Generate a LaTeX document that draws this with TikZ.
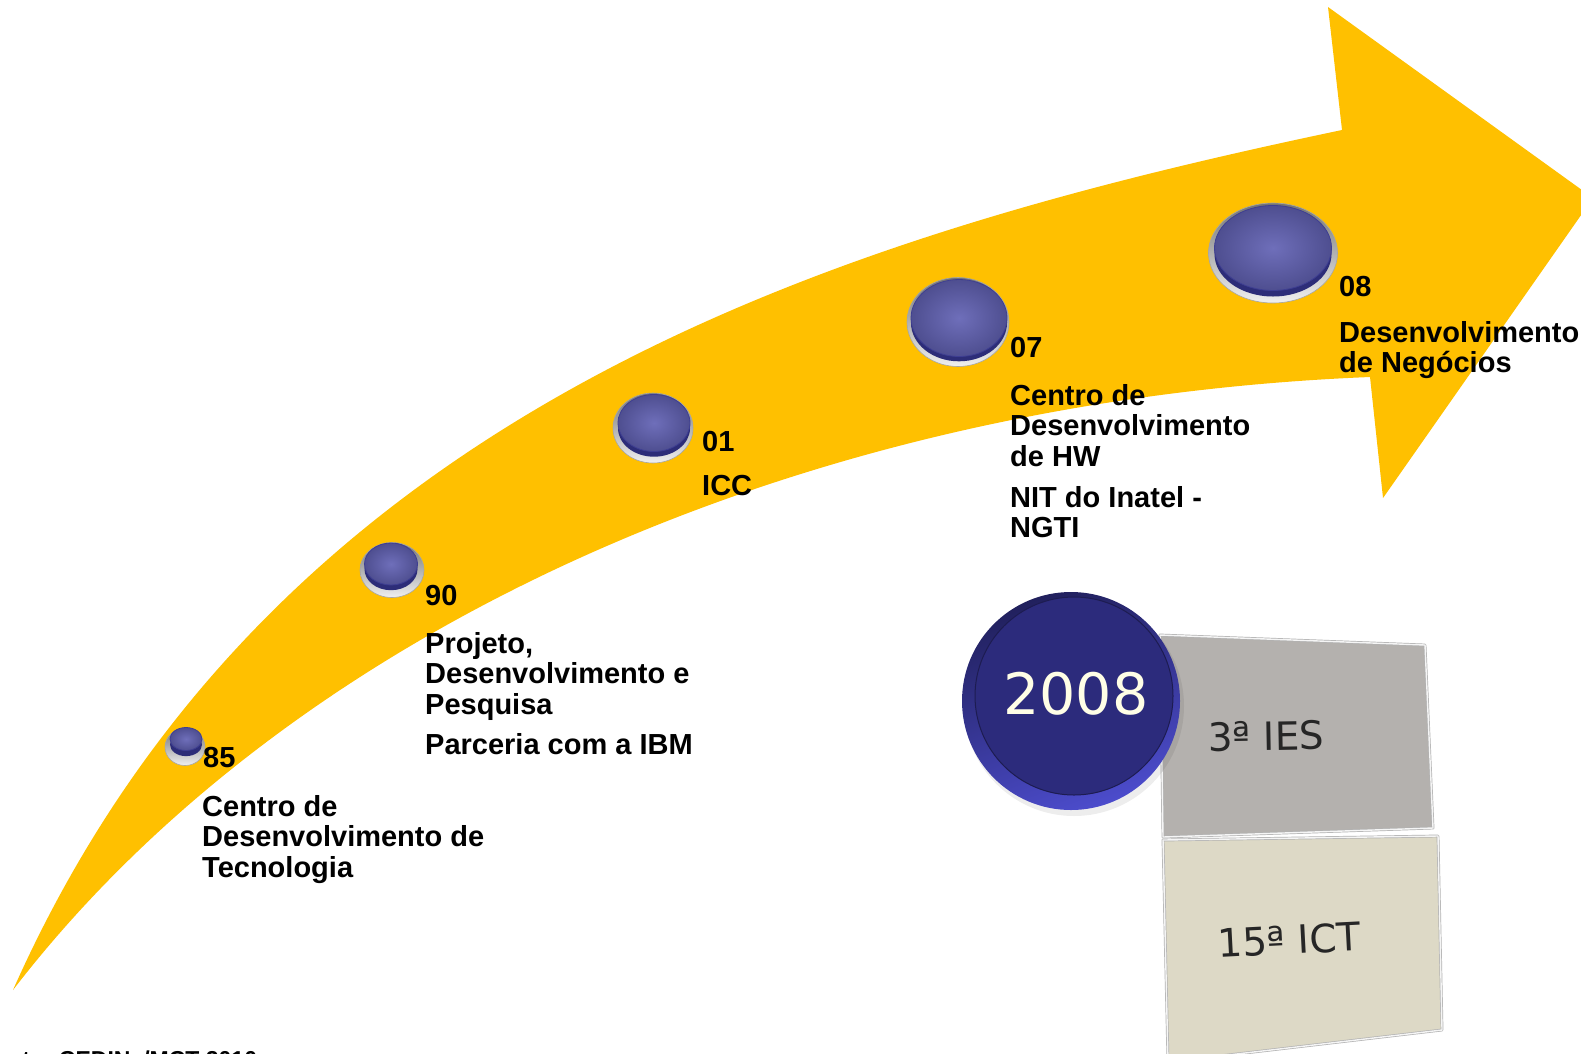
\documentclass[tikz,border=0pt]{standalone}
\usepackage{fontspec}
\setmainfont{Liberation Sans}
\newfontfamily\verd{DejaVu Sans}
\usetikzlibrary{shapes.geometric}
\definecolor{gold}{HTML}{FFC000}
\definecolor{btnface}{HTML}{6262B4}
\definecolor{btnedge}{HTML}{3E3E92}
\definecolor{btnside}{HTML}{2D2D78}
\definecolor{circface}{HTML}{2C2B7C}
\definecolor{circrim}{HTML}{4C4CCC}
\definecolor{boxgray}{HTML}{B4B1AE}
\definecolor{boxbeige}{HTML}{DDD9C6}
\newcommand\mybtn[9]{%
  \node[rim, minimum width=2*#4, minimum height=2*#5] (#1) at (#2,#3) {};
  \node[side, minimum width=2*#8, minimum height=2*#9] (#1s) at (#6,{#7+0.8*(#5-#9)}) {};
  \node[face, minimum width=2*#8, minimum height=2*#9] (#1f) at (#6,#7) {};
}
\begin{document}
\begin{tikzpicture}[x=1pt,y=-1pt,
  rim/.style={ellipse, inner sep=0, draw=black!35, line width=0.6pt, top color=black!55, bottom color=black!6},
  side/.style={ellipse, inner sep=0, fill=btnside},
  face/.style={ellipse, inner sep=0, draw=btnedge, line width=0.8pt, inner color=btnface!92!white, outer color=btnface!80!black},
  yr/.style={anchor=north west, inner sep=0, font=\fontsize{29}{30.5}\selectfont\bfseries},
  desc/.style={anchor=north west, inner sep=0, align=left, font=\fontsize{29}{30.5}\selectfont\bfseries},
  boxtxt/.style={inner sep=0, font=\verd\fontsize{39}{40}\selectfont, text=black!85},
  boxframe/.style={draw=black!30, double=white!96!black, double distance=1.4pt, line width=0.7pt, line join=round},
]
\useasboundingbox (0,0) rectangle (1581,1053);
\clip (0,0) rectangle (1581,1053);

% the arrow
\fill[gold] (13,990) .. controls (273,405) and (842,235) .. (1342,130)
  -- (1328,7) -- (1593,198) -- (1383,498) -- (1370,377)
  .. controls (800,400) and (290,630) .. (13,990) -- cycle;

% buttons
\mybtn{b85}{185}{747}{20}{18.5}{186}{739}{16}{11.5}
\mybtn{b90}{392}{570}{32}{27.5}{391}{564}{26.5}{21}
\mybtn{b01}{653}{428}{40}{35}{654}{423}{36}{28.5}
\mybtn{b07}{958}{322}{51}{44.5}{959}{318}{48}{38.5}
\mybtn{b08}{1273}{253}{64.5}{50}{1273}{248}{58.5}{42.5}

% labels
\node[yr] (y85) at (203,747) {85};
\node[desc] (t85) at (202,795) {Centro de\\Desenvolvimento de\\Tecnologia};
\node[yr] (y90) at (425,585) {90};
\node[desc] (t90) at (425,632) {Projeto,\\Desenvolvimento e\\Pesquisa};
\node[desc] (p90) at (425,733) {Parceria com a IBM};
\node[yr] (y01) at (702,431) {01};
\node[desc] (t01) at (702,475) {ICC};
\node[yr] (y07) at (1010,337) {07};
\node[desc] (t07) at (1010,384) {Centro de\\Desenvolvimento\\de HW};
\node[desc] (n07) at (1010,486) {NIT do Inatel -\\NGTI};
\node[yr] (y08) at (1339,276) {08};
\node[desc] (t08) at (1339,321) {Desenvolvimento\\de Negócios};

% boxes
\path[boxframe, fill=boxgray] (1160,635) -- (1425,645) -- (1433,828) -- (1163,837) -- cycle;
\path[boxframe, fill=boxbeige] (1163,840) -- (1438,836) -- (1442,1030) -- (1168,1062) -- cycle;
\node[boxtxt, rotate=1] (ies) at (1266,736) {3ª IES};
\node[boxtxt, rotate=3] (ict) at (1289,940) {15ª ICT};

% 2008 disc
\fill[black, opacity=0.07] (1074,706) circle (110);
\node[circle, inner sep=0, minimum size=218, top color=circface!75!black, bottom color=circrim, shading angle=20] (c2008o) at (1071,701) {};
\node[circle, inner sep=0, minimum size=198, fill=circface, draw=circface!65!black, line width=1] (c2008) at (1074,696) {};
\node[inner sep=0, text=white!90!yellow, font=\verd\fontsize{57}{57}\selectfont] (y2008) at (1076,694) {2008};

% source (cut at the bottom edge, as in the original)
\node[anchor=base west, inner sep=0, font=\fontsize{23}{23}\selectfont\bfseries] (src) at (-20,1067) {Fonte: CEDIN, /MCT 2010};
\end{tikzpicture}
\end{document}
